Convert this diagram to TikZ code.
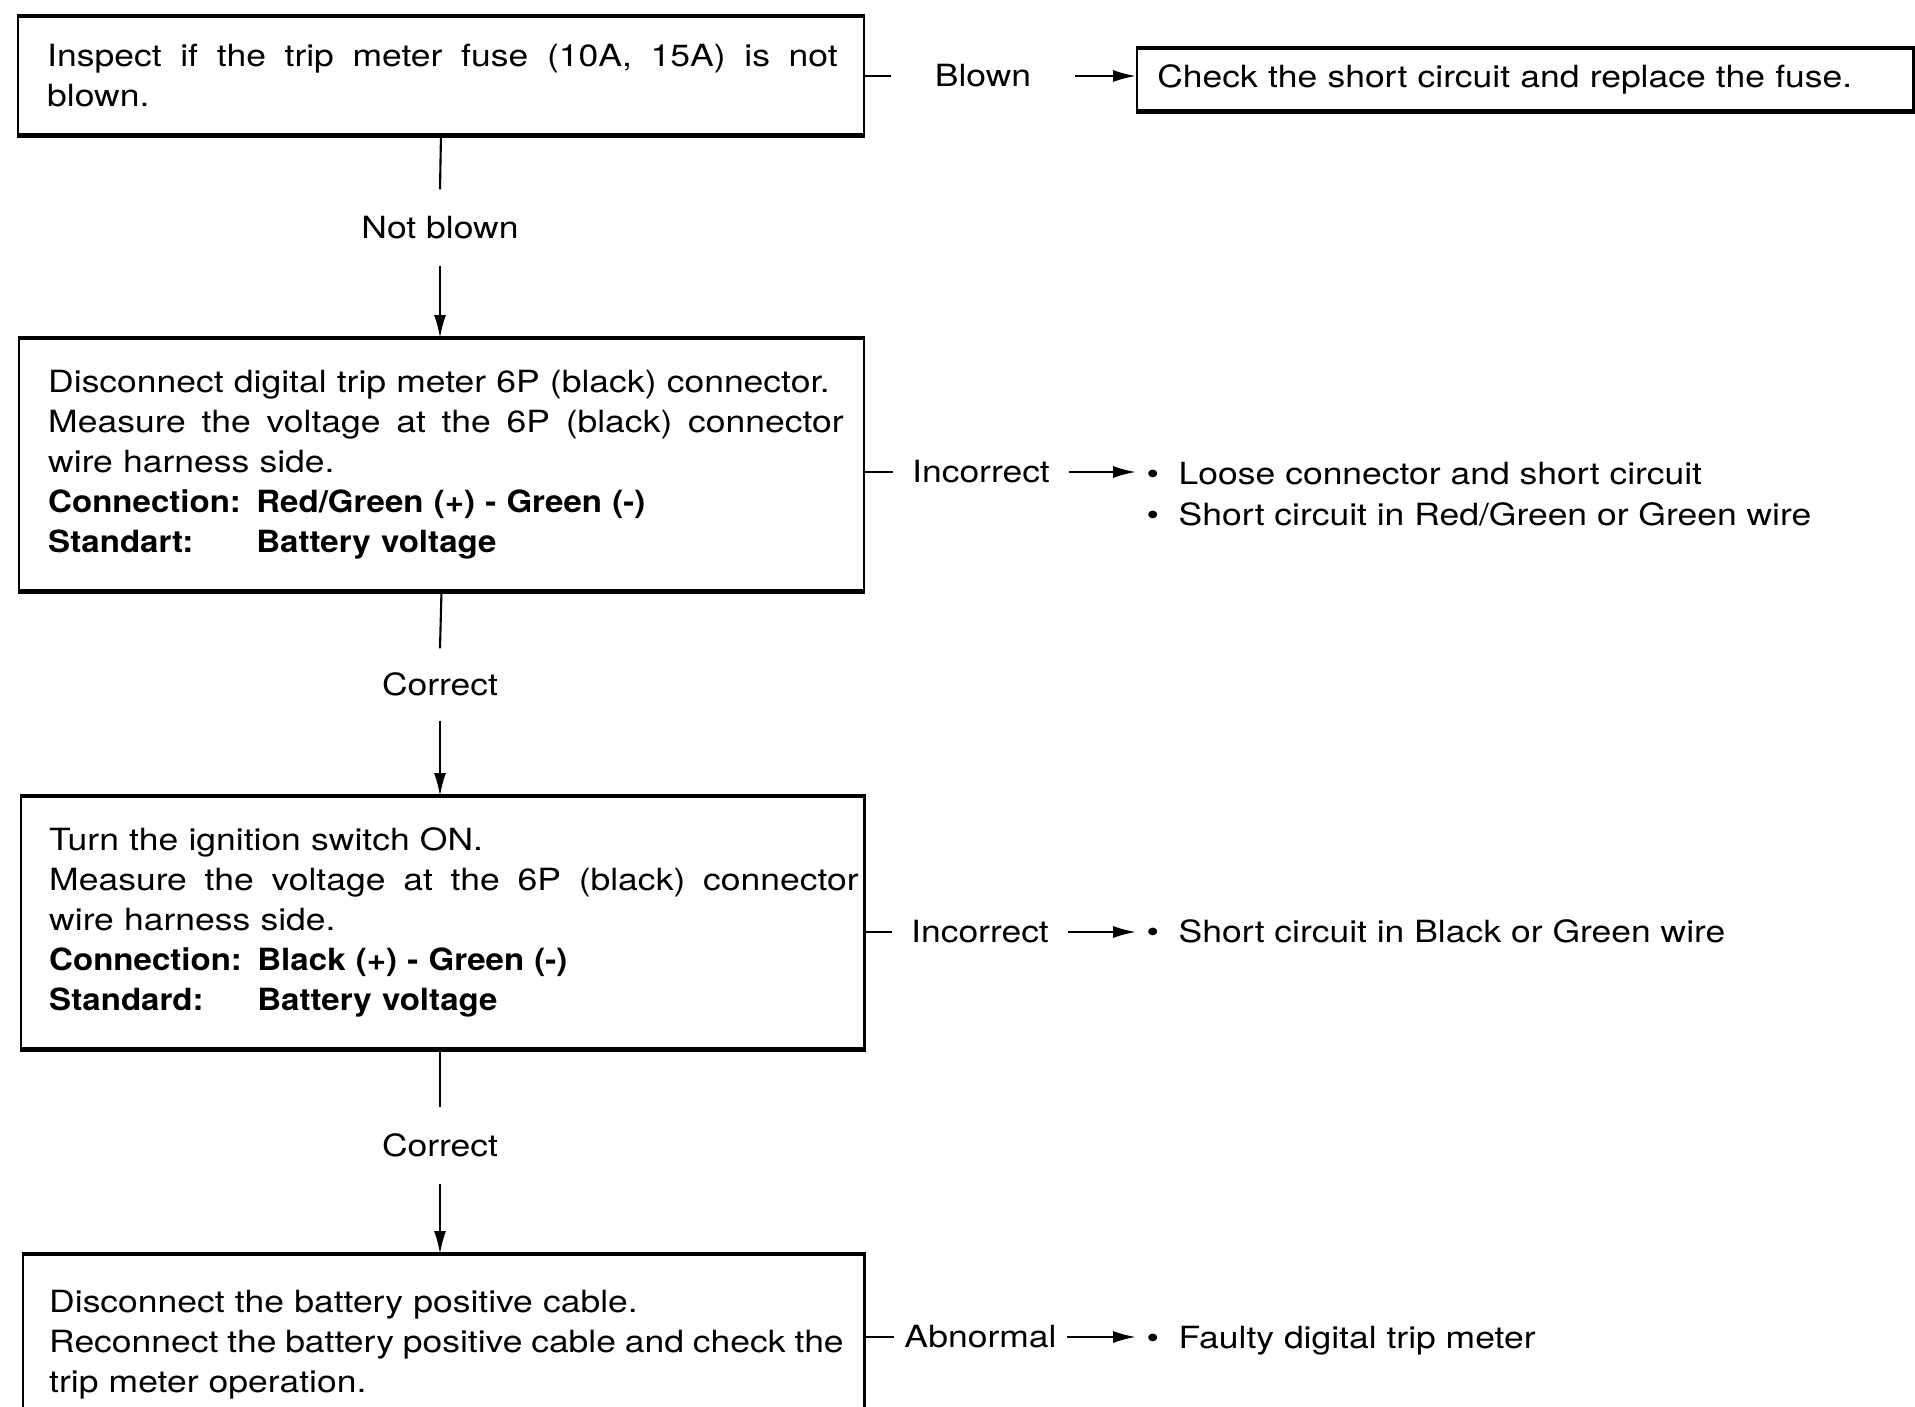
\documentclass[tikz,border=0pt]{standalone}
\usepackage{fontspec}
\setmainfont{TeX Gyre Heros}[FakeStretch=1.16, BoldFeatures={FakeStretch=1.08}]
\usetikzlibrary{arrows.meta}
% a line spread to a fixed width: interword spaces take up the slack
\newcommand{\jline}[2]{\leavevmode\hbox to #1{\spaceskip=\fontdimen2\font plus 1fil minus \fontdimen4\font
  \xspaceskip=\spaceskip\relax #2}}
% bullet of a list entry
\newcommand{\bul}{\makebox[0.42cm][l]{\hspace{0.1cm}\textbullet}}
% bold key in the left column of a spec line
\newcommand{\keycol}[1]{\makebox[2.08cm][l]{\bfseries #1}}
\begin{document}
\begin{tikzpicture}[x=0.01cm,y=-0.01cm,
  txt/.style={font=\fontsize{8.7}{11.38}\selectfont},
  box/.style={txt, draw, line width=0.7pt, anchor=north west, align=left, inner ysep=0pt},
  lab/.style={txt, inner ysep=0pt, inner xsep=0.18cm},
  wire/.style={line width=0.6pt},
  arr/.style={wire, -{Latex[length=6.5pt,width=3.4pt]}},
  edge/.style={line width=1.3pt}]
\useasboundingbox (0,0) rectangle (1915,1407);
\clip (0,0) rectangle (1915,1407);
\fill[white] (0,0) rectangle (1915,1407);

% steps
\node[box, minimum width=8.45cm, minimum height=1.17cm, text width=7.87cm, inner xsep=0.29cm] (b1) at (17,16)
  {\jline{7.90cm}{Inspect if the trip meter fuse (10A, 15A) is not}\\ blown.};
\node[box, minimum width=7.76cm, minimum height=0.61cm, text width=7.36cm, inner xsep=0.2cm] (b2) at (1136,48)
  {Check the short circuit and replace the fuse.};
\node[box, minimum width=8.44cm, minimum height=2.51cm, text width=7.86cm, inner xsep=0.29cm] (b3) at (18,338)
  {Disconnect digital trip meter 6P (black) connector.\\
   \jline{7.95cm}{Measure the voltage at the 6P (black) connector}\\
   wire harness side.\\
   \keycol{Connection:}\textbf{Red/Green (+) - Green (-)}\\
   \keycol{Standart:}\textbf{Battery voltage}};
\node[box, minimum width=8.43cm, minimum height=2.51cm, text width=7.87cm, inner xsep=0.28cm] (b4) at (20,796)
  {Turn the ignition switch ON.\\
   \jline{8.09cm}{Measure the voltage at the 6P (black) connector}\\
   wire harness side.\\
   \keycol{Connection:}\textbf{Black (+) - Green (-)}\\
   \keycol{Standard:}\textbf{Battery voltage}};
\node[box, minimum width=8.41cm, minimum height=1.78cm, text width=7.89cm, inner xsep=0.26cm] (b5) at (22,1254)
  {Disconnect the battery positive cable.\\
   \jline{7.94cm}{Reconnect the battery positive cable and check the}\\
   trip meter operation.};

% heavier top and bottom rules of the boxes
\foreach \b in {b1,b2,b3,b4,b5} {
  \draw[edge] (\b.north west) -- (\b.north east);
  \draw[edge] (\b.south west) -- (\b.south east);
}

% branch labels
\node[lab, minimum height=0.75cm] (nb) at (440,227.5) {Not blown};
\node[lab, minimum height=0.71cm] (c1) at (440,684.5) {Correct};
\node[lab, minimum height=0.75cm] (c2) at (440,1145.5) {Correct};
\node[lab, inner xsep=0.43cm] (lb) at (983,76) {Blown};
\node[lab] (li1) at (981,472) {Incorrect};
\node[lab] (li2) at (980,932) {Incorrect};
\node[lab, inner xsep=0.1cm] (la) at (980.5,1337) {Abnormal};

% results
\node[txt, anchor=base west, inner sep=0pt] (r1) at (1136,485)
  {\parbox[t]{7cm}{\bul Loose connector and short circuit\\ \bul Short circuit in Red/Green or Green wire}};
\node[txt, anchor=base west, inner sep=0pt] (r2) at (1136,943) {\bul Short circuit in Black or Green wire};
\node[txt, anchor=base west, inner sep=0pt] (r3) at (1136,1348) {\bul Faulty digital trip meter};

% main flow
\draw[wire] (b1.south) -- (nb.north);
\draw[arr] (nb.south) -- (nb.south |- b3.north);
\draw[wire] (b3.south) -- (c1.north);
\draw[arr] (c1.south) -- (c1.south |- b4.north);
\draw[wire] (c2.north |- b4.south) -- (c2.north);
\draw[arr] (c2.south) -- (c2.south |- b5.north);

% side branches
\draw[wire] (b1.east |- lb.west) -- (lb.west);
\draw[arr] (lb.east) -- (lb.east -| b2.west);
\draw[wire] (b3.east |- li1.west) -- (li1.west);
\draw[arr] (li1.east) -- (li1.east -| r1.west);
\draw[wire] (b4.east |- li2.west) -- (li2.west);
\draw[arr] (li2.east) -- (li2.east -| r2.west);
\draw[wire] (b5.east |- la.west) -- (la.west);
\draw[arr] (la.east) -- (la.east -| r3.west);
\end{tikzpicture}
\end{document}
